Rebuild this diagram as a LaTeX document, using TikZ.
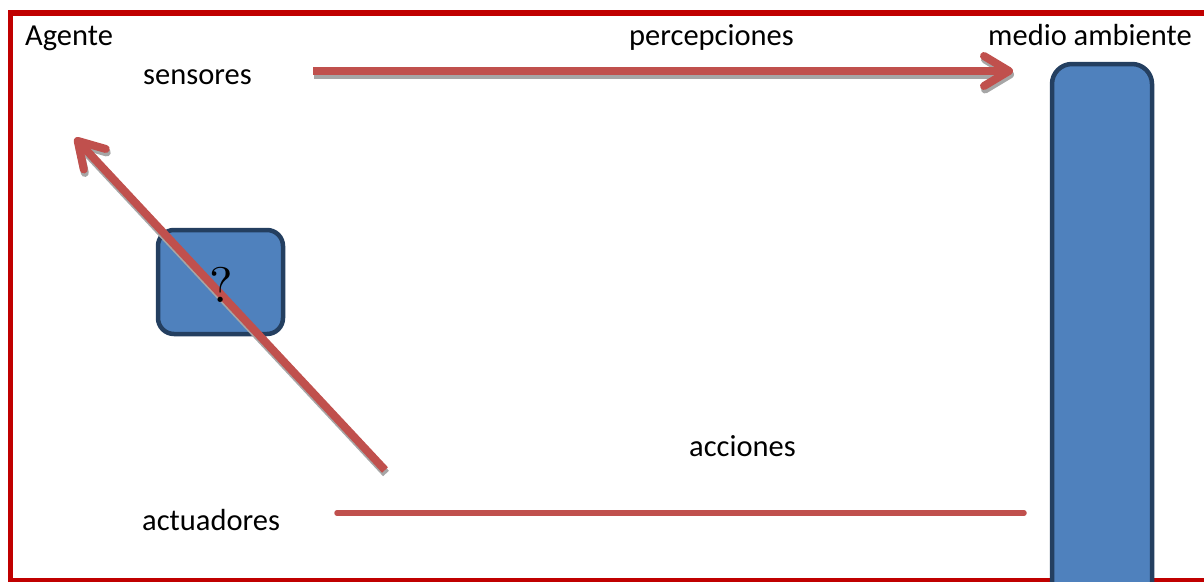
\documentclass[tikz,border=0pt]{standalone}
\usepackage{fontspec}
\setmainfont{Carlito}
\newfontfamily\lmfont{lmroman10-regular.otf}
\usetikzlibrary{arrows.meta}
\definecolor{arrowred}{HTML}{C0504D}
\definecolor{framered}{HTML}{C00000}
\definecolor{boxblue}{HTML}{4F81BD}
\definecolor{boxborder}{HTML}{243F60}
\definecolor{shadowgray}{HTML}{A6A6A6}
\tikzset{
  lbl/.style={font=\fontsize{30.5}{36}\selectfont, inner sep=0pt, anchor=base west},
  bluebox/.style={draw=boxborder, fill=boxblue, line width=4.5pt, inner sep=0pt},
  redarrow/.style={draw=arrowred, line width=8pt, line cap=butt,
    -{Straight Barb[length=25pt,width=30pt,round]}},
  shadowarrow/.style={redarrow, draw=shadowgray, transform canvas={shift={(1pt,-3.5pt)}}},
  redline/.style={draw=arrowred, line width=5.5pt, line cap=round}
}
\begin{document}
\begin{tikzpicture}[x=1pt,y=-1pt]
\useasboundingbox (0,0) rectangle (1204,581);
\clip (0,0) rectangle (1204,581);
% frame
\draw[framered, line width=5.5pt] (10.7,12.8) rectangle (1230,580.4);
% environment box
\node[bluebox, rounded corners=20pt, minimum width=100pt, minimum height=580pt] (env) at (1102,354) {};
% agent box
\node[bluebox, rounded corners=16pt, minimum width=125pt, minimum height=104pt] (agent) at (220.5,282) {};
% coordinates
\coordinate (s1) at (313,71);
\coordinate (s2) at (1013,71);
\coordinate (d1) at (385,470);
\coordinate (d2) at (75,138);
\coordinate (a1) at (337,513);
\coordinate (a2) at (1024,513);
% arrows
\draw[shadowarrow] (s1) -- (s2);
\draw[redarrow] (s1) -- (s2);
\draw[shadowarrow] (d1) -- (d2);
\draw[redarrow] (d1) -- (d2);
\draw[redline] (a1) -- (a2);
% question mark
\node[inner sep=0pt, anchor=base, font=\lmfont\fontsize{50}{52}\selectfont] (q) at (221,302) {?};
% labels
\node[lbl] (agente) at (25,45) {Agente};
\node[lbl] (sensores) at (143,84) {sensores};
\node[lbl] (percep) at (629,45) {percepciones};
\node[lbl] (medio) at (988,45) {medio ambiente};
\node[lbl] (acciones) at (689,456) {acciones};
\node[lbl] (actuad) at (142,530) {actuadores};
\end{tikzpicture}
\end{document}
